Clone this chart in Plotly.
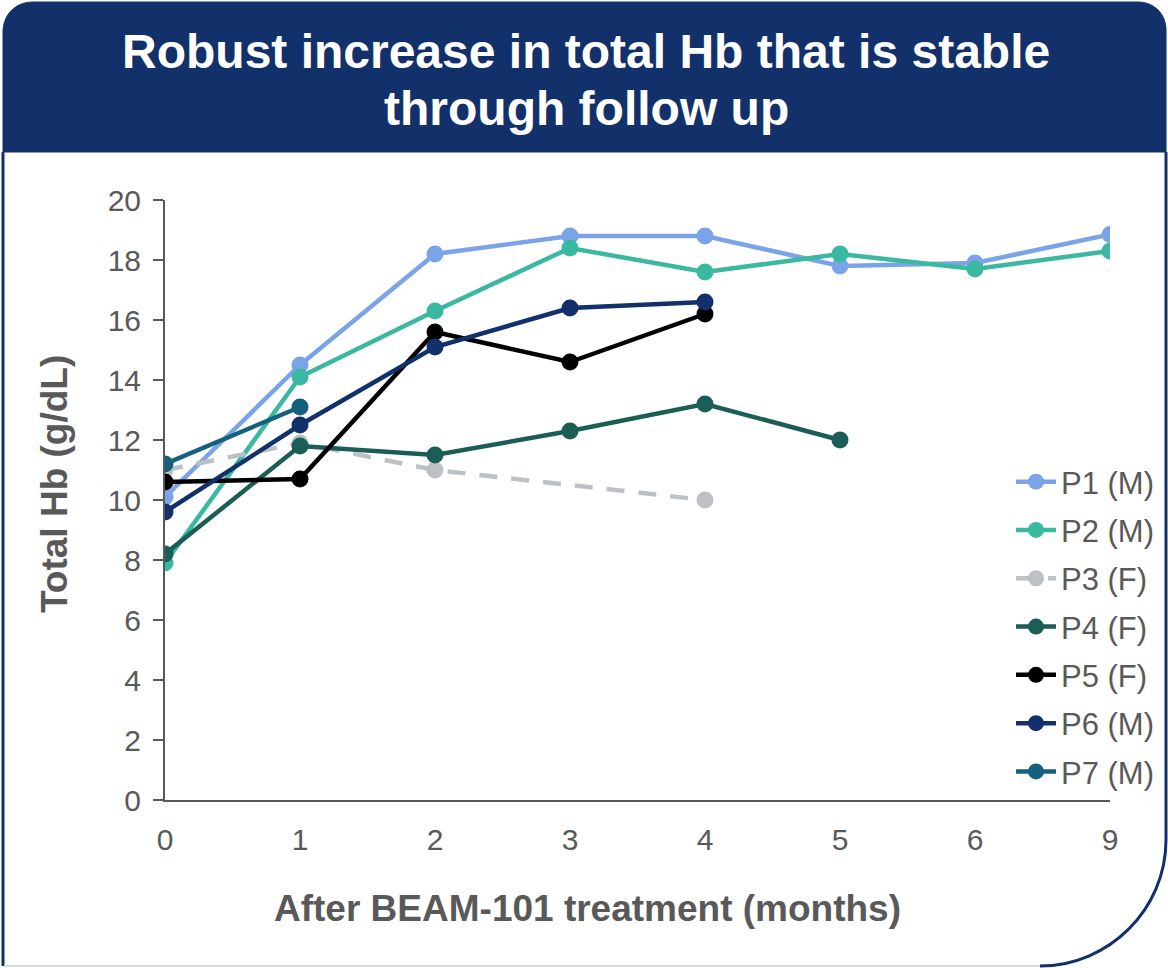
import plotly.graph_objects as go

months = ["0", "1", "2", "3", "4", "5", "6", "9"]
series_names = ["P1 (M)", "P2 (M)", "P3 (F)", "P4 (F)", "P5 (F)", "P6 (M)", "P7 (M)"]
p1 = [10.1, 14.5, 18.2, 18.8, 18.8, 17.8, 17.9, 18.85]
p2 = [7.9, 14.1, 16.3, 18.4, 17.6, 18.2, 17.7, 18.3]
p3 = [11.0, 11.9, 11.0, None, 10.0, None, None, None]
p4 = [8.2, 11.8, 11.5, 12.3, 13.2, 12.0, None, None]
p5 = [10.6, 10.7, 15.6, 14.6, 16.2, None, None, None]
p6 = [9.6, 12.5, 15.1, 16.4, 16.6, None, None, None]
p7 = [11.2, 13.1, None, None, None, None, None, None]
y_ticks = [0, 2, 4, 6, 8, 10, 12, 14, 16, 18, 20]

title_lines = ["Robust increase in total Hb that is stable", "through follow up"]
x_title = "After BEAM-101 treatment (months)"
y_title = "Total Hb (g/dL)"

colors = ["#7BA3E8", "#3BB8A0", "#BDC0C4", "#1B5E55", "#000000", "#12306A", "#15607E"]
dashes = ["solid", "solid", "18px,14px", "solid", "solid", "solid", "solid"]
values = [p1, p2, p3, p4, p5, p6, p7]

W, H = 1168, 968
L, R, T, B = 165, 1110, 200, 800
NAVY = "#12306A"
GREY = "#595959"
FONT = "Liberation Sans, Arial, sans-serif"


def px(x, y):
    return (x - L) / (R - L), (B - y) / (B - T)


def path(cmds):
    out = []
    for c in cmds:
        if isinstance(c, str):
            out.append(c)
        else:
            xs, ys = px(*c)
            out.append(f"{xs:.5f},{ys:.5f}")
    return " ".join(out)


fig = go.Figure()
for name, vals, col, dsh in zip(series_names, values, colors, dashes):
    xs = [m for m, v in zip(months, vals) if v is not None]
    ys = [v for v in vals if v is not None]
    fig.add_trace(go.Scatter(
        x=xs, y=ys, name=name, mode="lines+markers",
        line=dict(color=col, width=4.5, dash=dsh),
        marker=dict(color=col, size=17),
        legendgroup=name,
    ))

shapes = []
shapes.append(dict(
    type="path", xref="paper", yref="paper", layer="below",
    path=path(["M", (3, 152), "L", (3, 32), "C", (3, 15), (15, 2), (33, 2),
               "L", (1138, 2), "C", (1154, 2), (1166, 14), (1166, 30),
               "L", (1166, 152), "Z"]),
    fillcolor=NAVY, line=dict(color=NAVY, width=1),
))
shapes.append(dict(
    type="path", xref="paper", yref="paper", layer="below",
    path=path(["M", (3, 152), "L", (3, 966)]),
    line=dict(color=NAVY, width=3),
))
shapes.append(dict(
    type="path", xref="paper", yref="paper", layer="below",
    path=path(["M", (4, 966), "L", (1040, 966)]),
    line=dict(color="#D5D9E2", width=2),
))
shapes.append(dict(
    type="path", xref="paper", yref="paper", layer="below",
    path=path(["M", (1166, 152), "L", (1166, 840), "C", (1166, 909), (1109, 966), (1040, 966)]),
    line=dict(color=NAVY, width=3),
))

annotations = []
tx, ty1 = px(586, 51)
_, ty2 = px(586, 108)
for txt, ty in zip(title_lines, [ty1, ty2]):
    annotations.append(dict(xref="paper", yref="paper", x=tx, y=ty, text=f"<b>{txt}</b>",
                            showarrow=False, xanchor="center", yanchor="middle",
                            font=dict(family=FONT, size=48, color="white")))
ax, ay = px(587, 908)
annotations.append(dict(xref="paper", yref="paper", x=ax, y=ay, text=f"<b>{x_title}</b>",
                        showarrow=False, xanchor="center", yanchor="middle",
                        font=dict(family=FONT, size=37, color=GREY)))
yx, yy = px(54, 484)
annotations.append(dict(xref="paper", yref="paper", x=yx, y=yy, text=f"<b>{y_title}</b>",
                        showarrow=False, xanchor="center", yanchor="middle", textangle=-90,
                        font=dict(family=FONT, size=37, color=GREY)))

lx, ly = px(1011, 455)
fig.update_layout(
    width=W, height=H,
    margin=dict(l=L, r=W - R, t=T, b=H - B, pad=0, autoexpand=False),
    paper_bgcolor="white", plot_bgcolor="white",
    font=dict(family=FONT, color=GREY),
    showlegend=True,
    legend=dict(x=lx, y=ly, xanchor="left", yanchor="top",
                font=dict(family=FONT, size=31, color=GREY),
                tracegroupgap=5, traceorder="grouped",
                bgcolor="rgba(0,0,0,0)", itemwidth=40),
    shapes=shapes, annotations=annotations,
    xaxis=dict(type="category", categoryarray=months, categoryorder="array",
               range=[0, len(months) - 1], showgrid=False, zeroline=False,
               showline=True, linecolor=GREY, linewidth=2, ticks="",
               tickfont=dict(family=FONT, size=30, color=GREY), ticklabelstandoff=12),
    yaxis=dict(range=[0, 20], tickvals=y_ticks, showgrid=False, zeroline=False,
               showline=True, linecolor=GREY, linewidth=2, ticks="outside",
               ticklen=10, tickwidth=2, tickcolor=GREY,
               tickfont=dict(family=FONT, size=30, color=GREY), ticklabelstandoff=6),
)

fig.write_html("out.html", config={"displayModeBar": False},
               post_script="document.body.style.margin='0';document.body.style.overflow='hidden';document.documentElement.style.overflow='hidden';")
